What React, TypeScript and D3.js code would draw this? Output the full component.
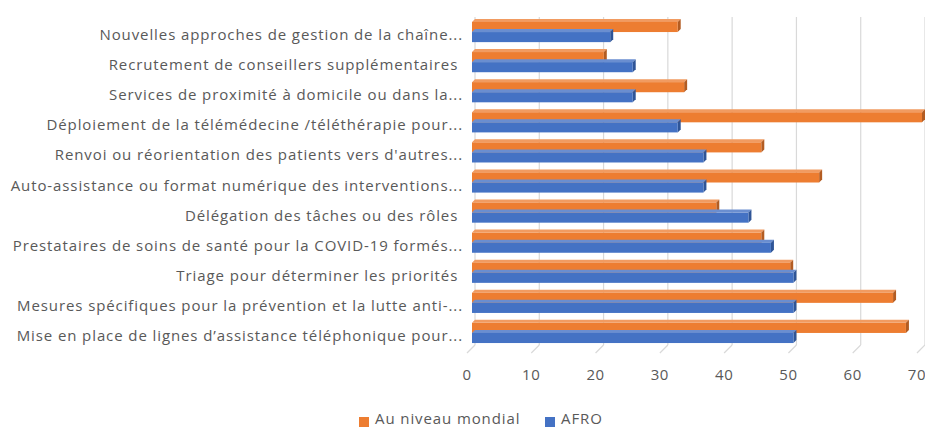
import React from 'react';
import * as d3 from 'd3';

// categories, top to bottom
const categories = [
  'Nouvelles approches de gestion de la chaîne...',
  'Recrutement de conseillers supplémentaires ',
  'Services de proximité à domicile ou dans la...',
  'Déploiement de la télémédecine /téléthérapie pour...',
  "Renvoi ou réorientation des patients vers d'autres...",
  'Auto-assistance ou format numérique des interventions...',
  'Délégation des tâches ou des rôles ',
  'Prestataires de soins de santé pour la COVID-19 formés...',
  'Triage pour déterminer les priorités ',
  'Mesures spécifiques pour la prévention et la lutte anti-...',
  'Mise en place de lignes d’assistance téléphonique pour...',
];
const mondial = [32, 20.5, 33, 70, 45, 54, 38, 45, 49.5, 65.5, 67.5];
const afro = [21.5, 25, 25, 32, 36, 36, 43, 46.5, 50, 50, 50];
const seriesNames = ['Au niveau mondial', 'AFRO'];
const ticks = [0, 10, 20, 30, 40, 50, 60, 70];

const colors = ['#ED7D31', '#4472C4'];
const sideColors = ['#B35C22', '#2F5597'];
const topColors = ['#F19B61', '#6A8ED0'];
const textColor = '#595959';
const font = "'Open Sans', 'DejaVu Sans', sans-serif";

export default function App() {
  const W = 925;
  const H = 429;
  const x = d3.scaleLinear().domain([0, 70]).range([472, 922]);
  const y = d3
    .scaleBand<string>()
    .domain(categories)
    .range([17, 348])
    .paddingInner(0.33)
    .paddingOuter(0.165);
  const sub = d3.scaleBand<number>().domain([0, 1]).range([0, y.bandwidth()]);
  const depth = 3; // fake 3d depth like the Excel chart
  const floorY = 345;

  const bars = categories.flatMap((c, i) =>
    [mondial[i], afro[i]].map((v, s) => ({ c, v, s }))
  );

  return (
    <svg width={W} height={H} style={{ position: 'absolute', left: 0, top: 0 }}>
      {/* gridlines on the back wall + floor */}
      {ticks.map((t) => (
        <g key={t}>
          <line x1={x(t) + depth} x2={x(t) + depth} y1={17} y2={floorY} stroke="#D9D9D9" strokeWidth={1.2} />
          <line x1={x(t) + depth} x2={x(t) + depth - 8} y1={floorY} y2={floorY + 8} stroke="#D9D9D9" strokeWidth={1.2} />
          <text
            x={x(t) - 5}
            y={376}
            textAnchor="middle"
            dominantBaseline="middle"
            fontFamily={font}
            fontSize={15}
            letterSpacing={0.6}
            fill={textColor}
          >
            {t}
          </text>
        </g>
      ))}

      {bars.map((b, k) => {
        const y0 = (y(b.c) ?? 0) + (sub(b.s) ?? 0);
        const h = sub.bandwidth();
        const x0 = x(0);
        const x1 = x(b.v);
        return (
          <g key={k}>
            <polygon
              points={`${x0},${y0} ${x0 + depth},${y0 - depth} ${x1 + depth},${y0 - depth} ${x1},${y0}`}
              fill={topColors[b.s]}
            />
            <polygon
              points={`${x1},${y0} ${x1 + depth},${y0 - depth} ${x1 + depth},${y0 + h - depth} ${x1},${y0 + h}`}
              fill={sideColors[b.s]}
            />
            <rect x={x0} y={y0} width={x1 - x0} height={h} fill={colors[b.s]} />
          </g>
        );
      })}

      {categories.map((c) => (
        <text
          key={c}
          x={463}
          y={(y(c) ?? 0) + y.bandwidth() / 2 + 4}
          textAnchor="end"
          dominantBaseline="middle"
          fontFamily={font}
          fontSize={15}
          letterSpacing={0.9}
          fill={textColor}
          style={{ whiteSpace: 'pre' }}
        >
          {c}
        </text>
      ))}

      {/* legend */}
      {seriesNames.map((n, s) => {
        const lx = s === 0 ? 359 : 545;
        return (
          <g key={n}>
            <rect x={lx} y={417} width={10} height={10} fill={colors[s]} />
            <text
              x={lx + 16}
              y={420}
              dominantBaseline="middle"
              fontFamily={font}
              fontSize={15}
              letterSpacing={0.9}
              fill={textColor}
            >
              {n}
            </text>
          </g>
        );
      })}
    </svg>
  );
}
